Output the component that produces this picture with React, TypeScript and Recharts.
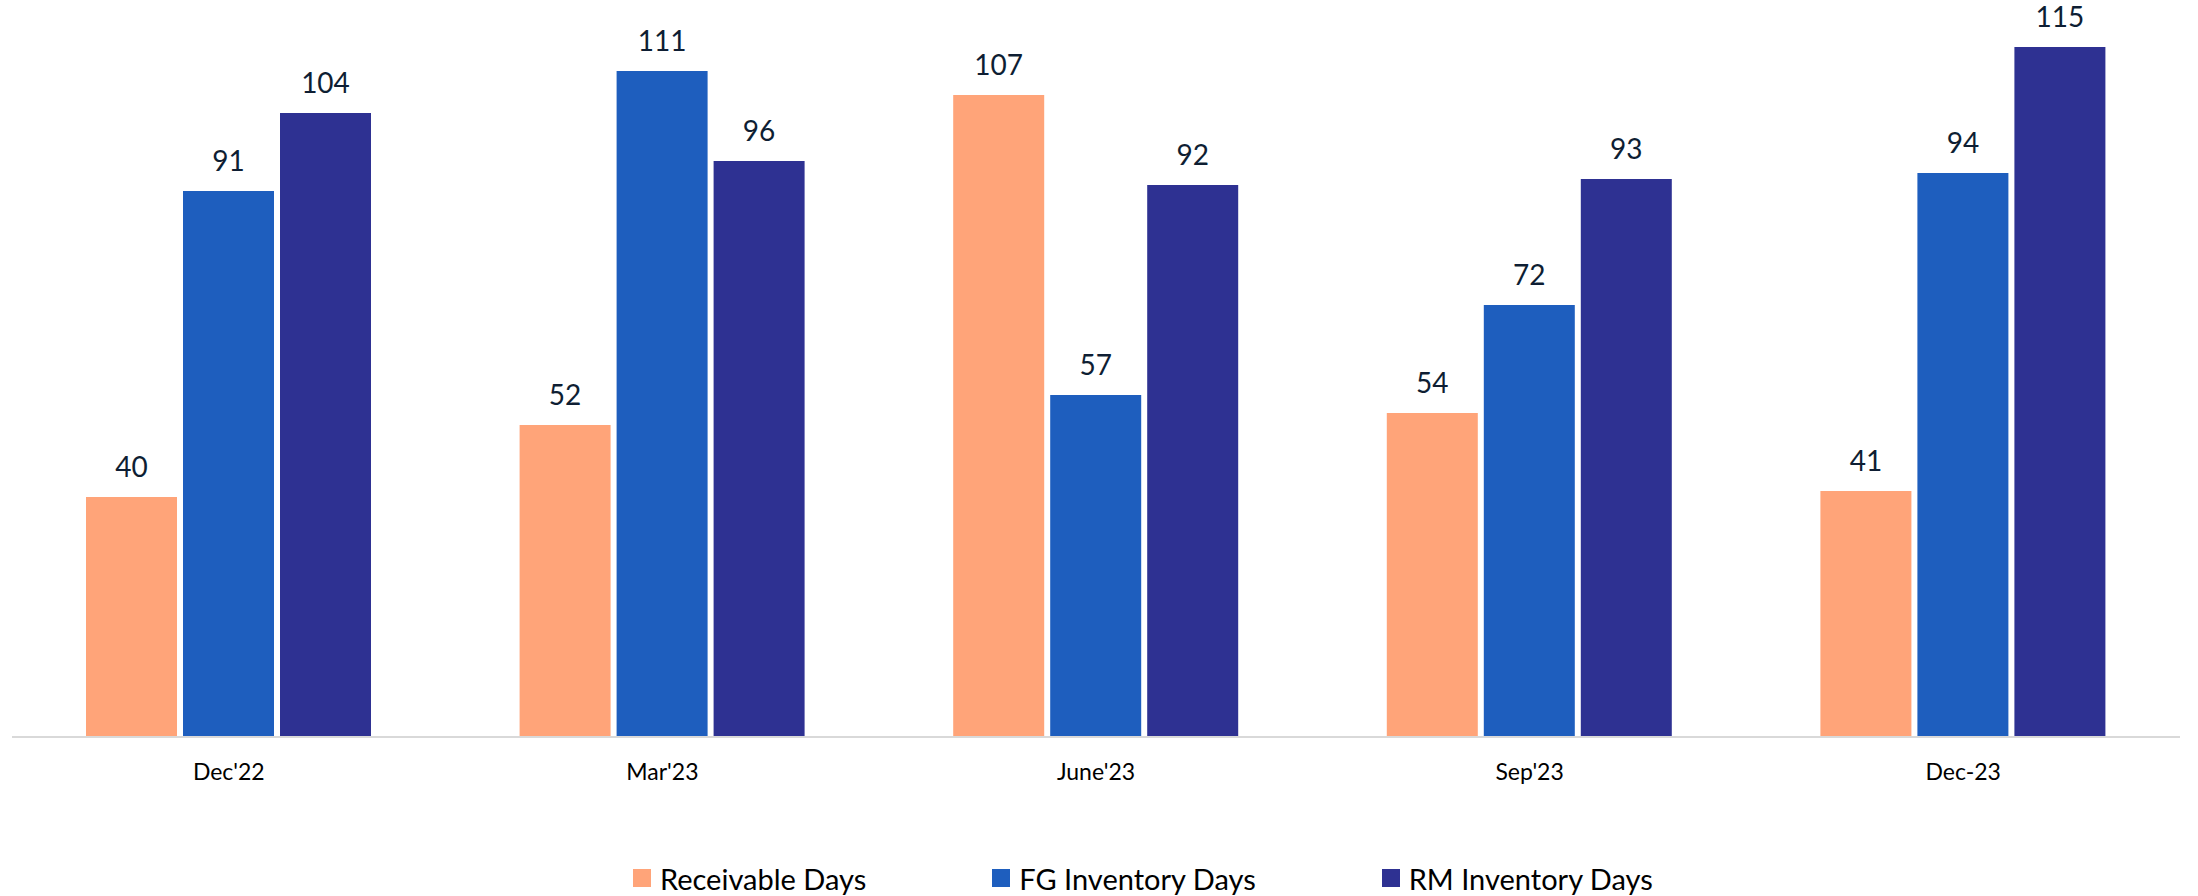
import React from "react";
import { BarChart, Bar, XAxis, YAxis, Legend, LabelList } from "recharts";

const quarters = ["Dec'22", "Mar'23", "June'23", "Sep'23", "Dec-23"];
const receivableDays = [40, 52, 107, 54, 41];
const fgInventoryDays = [91, 111, 57, 72, 94];
const rmInventoryDays = [104, 96, 92, 93, 115];

const seriesNames = ["Receivable Days", "FG Inventory Days", "RM Inventory Days"];
const seriesColors = ["#FFA479", "#1E5EBE", "#2E3192"];

const chartData = quarters.map((q, i) => ({
  name: q,
  receivable: receivableDays[i],
  fg: fgInventoryDays[i],
  rm: rmInventoryDays[i],
}));

const FONT = "Lato, 'Open Sans', sans-serif";

// legend with wide spacing between items, kept in series order
const renderLegend = (props: any) => {
  const payload = [...(props.payload || [])].sort(
    (a: any, b: any) => seriesNames.indexOf(a.value) - seriesNames.indexOf(b.value)
  );
  return (
    <div
      style={{
        display: "flex",
        justifyContent: "flex-start",
        paddingLeft: 633,
        height: 36,
        alignItems: "center",
        fontFamily: FONT,
      }}
    >
      {payload.map((entry: any, idx: number) => (
        <div
          key={entry.value}
          style={{
            display: "flex",
            alignItems: "center",
            marginLeft: idx === 0 ? 0 : 126,
          }}
        >
          <span
            style={{
              width: 18,
              height: 18,
              background: entry.color,
              display: "inline-block",
              marginRight: 9,
            }}
          />
          <span style={{ fontSize: 29, color: "#000" }}>{entry.value}</span>
        </div>
      ))}
    </div>
  );
};

const labelStyle = { fontSize: 28, fill: "#0E1E33", fontFamily: FONT };

export default function App() {
  return (
    <div style={{ position: "absolute", left: 0, top: 0, background: "#fff" }}>
      <BarChart
        width={2198}
        height={896}
        data={chartData}
        margin={{ top: 17, right: 18, left: 12, bottom: 63 }}
        barGap={6}
        barSize={91}
      >
        <XAxis
          dataKey="name"
          height={60}
          tickLine={false}
          tickSize={0}
          tickMargin={27}
          axisLine={{ stroke: "#D9D9D9", strokeWidth: 2 }}
          tick={{ fontSize: 23, fill: "#000", fontFamily: FONT }}
        />
        <YAxis hide domain={[0, 120]} />
        <Legend
          verticalAlign="bottom"
          content={renderLegend}
          wrapperStyle={{ top: 860, bottom: "auto", left: 0, width: 2198 }}
        />
        <Bar dataKey="receivable" name={seriesNames[0]} fill={seriesColors[0]} isAnimationActive={false}>
          <LabelList dataKey="receivable" position="top" offset={20} style={labelStyle} />
        </Bar>
        <Bar dataKey="fg" name={seriesNames[1]} fill={seriesColors[1]} isAnimationActive={false}>
          <LabelList dataKey="fg" position="top" offset={20} style={labelStyle} />
        </Bar>
        <Bar dataKey="rm" name={seriesNames[2]} fill={seriesColors[2]} isAnimationActive={false}>
          <LabelList dataKey="rm" position="top" offset={20} style={labelStyle} />
        </Bar>
      </BarChart>
    </div>
  );
}
